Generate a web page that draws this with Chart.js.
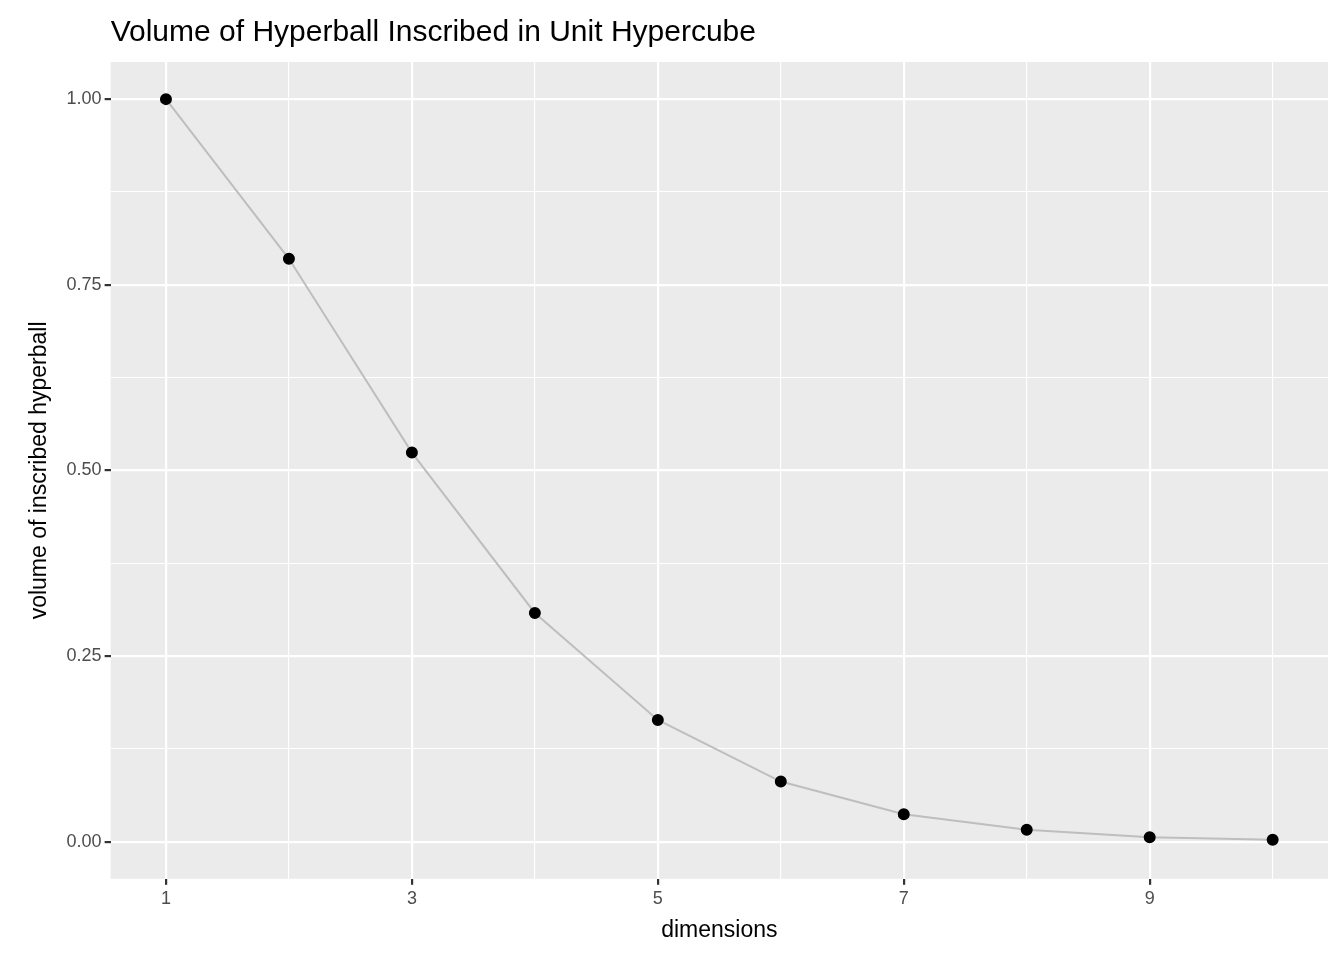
<!DOCTYPE html>
<html><head><meta charset="utf-8">
<script src="https://cdn.jsdelivr.net/npm/chart.js@4"></script>
<style>html,body{margin:0;background:#fff}#wrap{width:1344px;height:960px}</style>
</head><body><div id="wrap"><canvas id="c"></canvas></div>
<script>
// dimensions and volume of a ball of diameter 1
const dims = [1, 2, 3, 4, 5, 6, 7, 8, 9, 10];
const volumes = [1.0, 0.785, 0.524, 0.308, 0.164, 0.081, 0.037, 0.016, 0.006, 0.0025];
const xTicks = [1, 2, 3, 4, 5, 6, 7, 8, 9, 10];
const xLabels = [1, 3, 5, 7, 9];
const yTicks = [0, 0.125, 0.25, 0.375, 0.5, 0.625, 0.75, 0.875, 1];
const yLabels = [0, 0.25, 0.5, 0.75, 1];
const titleText = 'Volume of Hyperball Inscribed in Unit Hypercube';

const FONT = '"Liberation Sans", Arial, sans-serif';

// grey panel behind the plot area, title aligned with the panel
const panelBg = {
    id: 'panelBg',
    beforeDraw(chart) {
        const a = chart.chartArea, ctx = chart.ctx;
        ctx.save();
        ctx.fillStyle = '#EBEBEB';
        ctx.fillRect(a.left, a.top, a.right - a.left, a.bottom - a.top);
        ctx.fillStyle = '#000';
        ctx.font = '30px ' + FONT;
        ctx.textBaseline = 'alphabetic';
        ctx.fillText(titleText, a.left, 41);
        ctx.restore();
    }
};

const isMajorX = v => xLabels.includes(v);
const isMajorY = v => yLabels.some(l => Math.abs(l - v) < 1e-9);

new Chart(document.getElementById('c'), {
    type: 'scatter',
    data: {
        datasets: [{
            data: dims.map((d, i) => ({ x: d, y: volumes[i] })),
            showLine: true,
            borderColor: '#BEBEBE',
            borderWidth: 2,
            pointBackgroundColor: '#000',
            pointBorderColor: '#000',
            pointRadius: 5,
            tension: 0
        }]
    },
    options: {
        responsive: true,
        maintainAspectRatio: false,
        animation: false,
        layout: { padding: { top: 62, right: 16, left: 22, bottom: 12 } },
        plugins: {
            legend: { display: false },
            tooltip: { enabled: false },
            title: { display: false }
        },
        scales: {
            x: {
                type: 'linear', min: 0.55, max: 10.45,
                afterBuildTicks: axis => { axis.ticks = xTicks.map(v => ({ value: v })); },
                border: { display: false },
                grid: {
                    color: '#FFFFFF',
                    lineWidth: c => isMajorX(c.tick.value) ? 2.2 : 1.1,
                    tickColor: c => isMajorX(c.tick.value) ? '#333333' : 'rgba(0,0,0,0)',
                    tickLength: 6
                },
                ticks: {
                    autoSkip: false, maxRotation: 0,
                    color: '#4D4D4D',
                    font: { family: FONT, size: 18 },
                    callback: v => isMajorX(v) ? String(v) : ''
                },
                title: { display: true, text: 'dimensions', color: '#000', font: { family: FONT, size: 23 }, padding: { top: 4 } }
            },
            y: {
                type: 'linear', min: -0.05, max: 1.05,
                afterBuildTicks: axis => { axis.ticks = yTicks.map(v => ({ value: v })); },
                border: { display: false },
                grid: {
                    color: '#FFFFFF',
                    lineWidth: c => isMajorY(c.tick.value) ? 2.2 : 1.1,
                    tickColor: c => isMajorY(c.tick.value) ? '#333333' : 'rgba(0,0,0,0)',
                    tickLength: 6
                },
                ticks: {
                    autoSkip: false,
                    color: '#4D4D4D',
                    font: { family: FONT, size: 18 },
                    callback: v => isMajorY(v) ? v.toFixed(2) : ''
                },
                title: { display: true, text: 'volume of inscribed hyperball', color: '#000', font: { family: FONT, size: 23 }, padding: { bottom: 10 } }
            }
        }
    },
    plugins: [panelBg]
});
</script></body></html>
